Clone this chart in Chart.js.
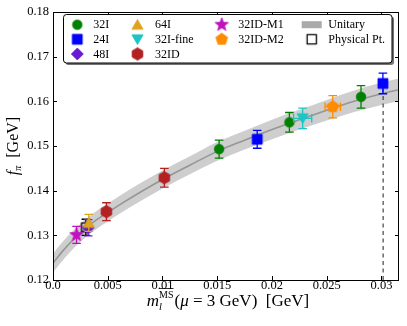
<!DOCTYPE html>
<html><head><meta charset="utf-8">
<script src="https://cdn.jsdelivr.net/npm/chart.js@4.4.0/dist/chart.umd.min.js"></script>
<style>html,body{margin:0;padding:0;background:#fff}#wrap{width:407px;height:326px}</style>
</head><body><div id="wrap"><canvas id="c" width="407" height="326"></canvas></div>
<script>
// ---------- data ----------
const xTickLabels = ['0.0','0.005','0.01','0.015','0.02','0.025','0.03'];
const yTickLabels = ['0.12','0.13','0.14','0.15','0.16','0.17','0.18'];

const m32I = [0.01517, 0.02159, 0.02813];
const f32I = [0.1493, 0.1553, 0.1610];
const e32I = [0.0020, 0.0022, 0.0025];

const m24I = [0.01865, 0.03013];
const f24I = [0.1515, 0.1640];
const e24I = [0.0020, 0.0023];

const m48I = [0.00321];
const f48I = [0.1317];
const e48I = [0.0018];

const m64I = [0.00327];
const f64I = [0.1328];
const e64I = [0.0019];

const m32Ifine = [0.0228];
const f32Ifine = [0.1562];
const e32Ifine = [0.0023];
const xe32Ifine = [0.00083];

const m32ID = [0.00488, 0.01017];
const f32ID = [0.1353, 0.1429];
const e32ID = [0.0020, 0.0021];

const m32IDM1 = [0.00215];
const f32IDM1 = [0.1301];
const e32IDM1 = [0.0019];

const m32IDM2 = [0.02555];
const f32IDM2 = [0.1588];
const e32IDM2 = [0.0025];
const xe32IDM2 = [0.0007];

const mPhys = [0.0030];
const fPhys = [0.1318];
const ePhys = [0.0018];

const dashedM = [0.03015, 0.03015];
const dashedF = [0.12, 0.1640];

const bandM = [0, 0.001, 0.002, 0.003, 0.004, 0.005, 0.006, 0.008, 0.010, 0.0125, 0.015, 0.0175, 0.020, 0.0225, 0.025, 0.0275, 0.030, 0.0316];
const bandC = [0.1238, 0.1268, 0.1294, 0.1316, 0.1335, 0.1351, 0.1367, 0.1397, 0.1425, 0.1457, 0.1488, 0.1513, 0.1537, 0.1559, 0.1580, 0.1600, 0.1617, 0.1626];
const bandW = [0.0021, 0.0021, 0.0020, 0.0020, 0.0020, 0.0020, 0.0020, 0.0020, 0.0020, 0.0020, 0.0021, 0.0021, 0.0022, 0.0022, 0.0023, 0.0024, 0.0025, 0.0025];

// ---------- markers ----------
function poly(g, cx, cy, r, n, a0) {
  for (let i = 0; i < n; i++) {
    const a = a0 + i * 2 * Math.PI / n;
    const x = cx + r * Math.cos(a), y = cy + r * Math.sin(a);
    if (i === 0) g.moveTo(x, y); else g.lineTo(x, y);
  }
}
function starPath(g, cx, cy, r, ri) {
  for (let i = 0; i < 10; i++) {
    const a = -Math.PI / 2 + i * Math.PI / 5;
    const rr = i % 2 ? ri : r;
    const x = cx + rr * Math.cos(a), y = cy + rr * Math.sin(a);
    if (i === 0) g.moveTo(x, y); else g.lineTo(x, y);
  }
}
function marker(shape, color, r, open) {
  const s = Math.ceil(r * 2 + 4);
  const c = document.createElement('canvas'); c.width = s; c.height = s;
  const g = c.getContext('2d'); const cx = s / 2, cy = s / 2;
  g.beginPath();
  if (shape === 'circle') g.arc(cx, cy, r, 0, 2 * Math.PI);
  else if (shape === 'square') g.rect(cx - r, cy - r, 2 * r, 2 * r);
  else if (shape === 'diamond') poly(g, cx, cy, r, 4, -Math.PI / 2);
  else if (shape === 'triUp') poly(g, cx, cy + r * 0.2, r, 3, -Math.PI / 2);
  else if (shape === 'triDown') poly(g, cx, cy - r * 0.2, r, 3, Math.PI / 2);
  else if (shape === 'hexagon') poly(g, cx, cy, r, 6, -Math.PI / 2);
  else if (shape === 'pentagon') poly(g, cx, cy, r, 5, -Math.PI / 2);
  else if (shape === 'star') starPath(g, cx, cy, r, r * 0.42);
  g.closePath();
  if (open) { g.lineWidth = 1.3; g.strokeStyle = color; g.stroke(); }
  else { g.fillStyle = color; g.fill(); g.lineWidth = 0.8; g.strokeStyle = color; g.stroke(); }
  return c;
}

const groups = [
  {label: '32I', m: m32I, f: f32I, e: e32I, xe: null, color: '#008000', shape: 'circle', r: 4.8},
  {label: '24I', m: m24I, f: f24I, e: e24I, xe: null, color: '#0000ff', shape: 'square', r: 5.0},
  {label: 'Physical Pt.', m: mPhys, f: fPhys, e: ePhys, xe: null, color: '#000000', shape: 'square', r: 4.3, open: true, noLegendHere: true},
  {label: '48I', m: m48I, f: f48I, e: e48I, xe: null, color: '#6a1ad2', shape: 'diamond', r: 6.0},
  {label: '64I', m: m64I, f: f64I, e: e64I, xe: null, color: '#dea321', shape: 'triUp', r: 6.5},
  {label: '32I-fine', m: m32Ifine, f: f32Ifine, e: e32Ifine, xe: xe32Ifine, color: '#1cc4c4', shape: 'triDown', r: 6.5},
  {label: '32ID', m: m32ID, f: f32ID, e: e32ID, xe: null, color: '#b22222', shape: 'hexagon', r: 6.2},
  {label: '32ID-M1', m: m32IDM1, f: f32IDM1, e: e32IDM1, xe: null, color: '#c010c0', shape: 'star', r: 7.0},
  {label: '32ID-M2', m: m32IDM2, f: f32IDM2, e: e32IDM2, xe: xe32IDM2, color: '#ff8c00', shape: 'pentagon', r: 6.2}
];

const datasets = [];
datasets.push({type: 'line', label: 'bandHi', data: bandM.map((x, i) => ({x, y: bandC[i] + bandW[i]})),
  borderWidth: 0, pointRadius: 0, fill: '+1', backgroundColor: 'rgba(190,190,190,0.75)', borderColor: 'rgba(0,0,0,0)', cubicInterpolationMode: 'monotone', order: 200});
datasets.push({type: 'line', label: 'bandLo', data: bandM.map((x, i) => ({x, y: bandC[i] - bandW[i]})),
  borderWidth: 0, pointRadius: 0, fill: false, borderColor: 'rgba(0,0,0,0)', cubicInterpolationMode: 'monotone', order: 199});
datasets.push({type: 'line', label: 'center', data: bandM.map((x, i) => ({x, y: bandC[i]})),
  borderWidth: 1.6, pointRadius: 0, fill: false, borderColor: '#969696', cubicInterpolationMode: 'monotone', order: 198});
datasets.push({type: 'line', label: 'dashed', data: dashedM.map((x, i) => ({x, y: dashedF[i]})),
  borderWidth: 1.1, pointRadius: 0, fill: false, borderColor: '#333333', borderDash: [4, 3.5], order: 197});
groups.forEach((gr, k) => {
  const img = marker(gr.shape, gr.color, gr.r, gr.open);
  gr.img = img;
  datasets.push({type: 'scatter', label: gr.label, data: gr.m.map((x, i) => ({x, y: gr.f[i]})),
    pointStyle: img, pointRadius: gr.r, pointHoverRadius: gr.r, backgroundColor: gr.color, borderColor: gr.color,
    order: 100 - k, _grp: gr});
});

// ---------- plugins ----------
const errPlugin = {
  id: 'errbars',
  beforeDatasetDraw(chart, args) {
    const ds = chart.data.datasets[args.index];
    const gr = ds._grp; if (!gr) return;
    const xs = chart.scales.x, ys = chart.scales.y, g = chart.ctx;
    g.save(); g.strokeStyle = gr.color; g.lineWidth = 1.3;
    gr.m.forEach((m, i) => {
      const px = xs.getPixelForValue(m);
      const y1 = ys.getPixelForValue(gr.f[i] + gr.e[i]), y2 = ys.getPixelForValue(gr.f[i] - gr.e[i]);
      const py = ys.getPixelForValue(gr.f[i]);
      g.beginPath();
      g.moveTo(px, y1); g.lineTo(px, y2);
      g.moveTo(px - 4.3, y1); g.lineTo(px + 4.3, y1);
      g.moveTo(px - 4.3, y2); g.lineTo(px + 4.3, y2);
      if (gr.xe) {
        const x1 = xs.getPixelForValue(m - gr.xe[i]), x2 = xs.getPixelForValue(m + gr.xe[i]);
        g.moveTo(x1, py); g.lineTo(x2, py);
        g.moveTo(x1, py - 4.3); g.lineTo(x1, py + 4.3);
        g.moveTo(x2, py - 4.3); g.lineTo(x2, py + 4.3);
      }
      g.stroke();
    });
    g.restore();
  }
};

const SERIF = '"Liberation Serif", "DejaVu Serif", serif';
const framePlugin = {
  id: 'frame',
  afterDraw(chart) {
    const g = chart.ctx, a = chart.chartArea, xs = chart.scales.x, ys = chart.scales.y;
    g.save();
    g.strokeStyle = '#000'; g.lineWidth = 1;
    g.strokeRect(Math.round(a.left) + 0.5, Math.round(a.top) + 0.5, Math.round(a.right - a.left) - 1, Math.round(a.bottom - a.top));
    g.beginPath();
    xs.ticks.forEach(t => {
      const px = Math.round(xs.getPixelForValue(t.value)) + 0.5;
      g.moveTo(px, a.bottom); g.lineTo(px, a.bottom - 4);
      g.moveTo(px, a.top); g.lineTo(px, a.top + 4);
    });
    ys.ticks.forEach(t => {
      const py = Math.round(ys.getPixelForValue(t.value)) + 0.5;
      g.moveTo(a.left, py); g.lineTo(a.left + 4, py);
      g.moveTo(a.right, py); g.lineTo(a.right - 4, py);
    });
    g.stroke();

    // x title
    g.fillStyle = '#000'; g.textBaseline = 'alphabetic';
    const parts = [
      {t: 'm', f: 'italic 17px ' + SERIF, dy: 0},
      {t: 'l', f: 'italic 10.5px ' + SERIF, dy: 4, sub: true},
      {t: '(', f: '17px ' + SERIF, dy: 0},
      {t: 'μ', f: 'italic 17px ' + SERIF, dy: 0},
      {t: ' = 3 GeV)  [GeV]', f: '17px ' + SERIF, dy: 0}
    ];
    const supT = 'MS', supF = '10px ' + SERIF;
    g.font = supF; const supW = g.measureText(supT).width;
    let total = 0;
    parts.forEach((p, i) => { g.font = p.f; p.w = g.measureText(p.t).width; total += p.w; if (p.sub) total += Math.max(0, supW - p.w) + 1; });
    let x = 228 - total / 2; const base = 306;
    parts.forEach(p => {
      g.font = p.f; g.fillText(p.t, x, base + p.dy);
      if (p.sub) {
        g.font = supF; g.fillText(supT, x, base - 8.5);
        g.beginPath(); g.lineWidth = 0.8; g.moveTo(x, base - 17.5); g.lineTo(x + supW, base - 17.5); g.stroke();
        x += Math.max(p.w, supW) + 1;
      } else x += p.w;
    });

    // y title
    g.save();
    g.translate(18, 146); g.rotate(-Math.PI / 2);
    const yp = [
      {t: 'f', f: 'italic 16px ' + SERIF, dy: 0},
      {t: 'π', f: 'italic 10px ' + SERIF, dy: 3},
      {t: '  [GeV]', f: '16px ' + SERIF, dy: 0}
    ];
    let tw = 0; yp.forEach(p => { g.font = p.f; p.w = g.measureText(p.t).width; tw += p.w; });
    let yx = -tw / 2;
    yp.forEach(p => { g.font = p.f; g.fillText(p.t, yx, p.dy); yx += p.w; });
    g.restore();

    // legend
    const L = 63, T = 14, R = 391.5, B = 62.5;
    g.fillStyle = 'rgba(0,0,0,0.55)';
    roundRect(g, L + 2.5, T + 2.5, R - L, B - T, 3); g.fill();
    g.fillStyle = '#fff'; g.strokeStyle = '#000'; g.lineWidth = 1;
    roundRect(g, L + 0.5, T + 0.5, R - L, B - T, 3); g.fill(); g.stroke();
    const colsM = [77.3, 137.5, 221.7, 311.7], colsT = [93.3, 155, 238.3, 328.3], rows = [24.7, 39.3, 54.0];
    const items = groups.filter(gr => !gr.noLegendHere).map(gr => ({label: gr.label, img: gr.img}));
    items.push({label: 'Unitary', patch: true});
    const phys = groups.find(gr => gr.noLegendHere);
    items.push({label: phys.label, img: marker('square', '#000', 4.6, true)});
    const perCol = [3, 3, 2, 2];
    let k = 0;
    g.font = '12px ' + SERIF; g.textBaseline = 'middle'; g.fillStyle = '#000';
    perCol.forEach((n, c) => {
      for (let r = 0; r < n; r++) {
        const it = items[k++]; const mx = colsM[c], my = rows[r];
        if (it.patch) { g.fillStyle = 'rgba(170,170,170,1)'; g.fillRect(mx - 10, my - 3.5, 20, 7); }
        else g.drawImage(it.img, mx - it.img.width / 2, my - it.img.height / 2);
        g.fillStyle = '#000'; g.fillText(it.label, colsT[c], my + 0.5);
      }
    });
    g.restore();
  }
};
function roundRect(g, x, y, w, h, r) {
  g.beginPath();
  g.moveTo(x + r, y); g.lineTo(x + w - r, y); g.arcTo(x + w, y, x + w, y + r, r);
  g.lineTo(x + w, y + h - r); g.arcTo(x + w, y + h, x + w - r, y + h, r);
  g.lineTo(x + r, y + h); g.arcTo(x, y + h, x, y + h - r, r);
  g.lineTo(x, y + r); g.arcTo(x, y, x + r, y, r); g.closePath();
}

new Chart(document.getElementById('c'), {
  data: {datasets},
  options: {
    responsive: false, animation: false, events: [],
    layout: {padding: {top: 12, right: 6, left: 0, bottom: 0}},
    plugins: {legend: {display: false}, tooltip: {enabled: false}},
    scales: {
      x: {type: 'linear', min: 0, max: 0.0316,
        afterFit(s) { s.height = 46; },
        grid: {display: false, drawTicks: false}, border: {display: false},
        ticks: {stepSize: 0.005, includeBounds: false, padding: -2, color: '#000', maxRotation: 0,
          font: {family: SERIF, size: 12.5}, callback: (v, i) => xTickLabels[i]}},
      y: {type: 'linear', min: 0.12, max: 0.18,
        afterFit(s) { s.width = 53; },
        grid: {display: false, drawTicks: false}, border: {display: false},
        ticks: {stepSize: 0.01, padding: 4, color: '#000',
          font: {family: SERIF, size: 12.5}, callback: (v, i) => yTickLabels[i]}}
    }
  },
  plugins: [errPlugin, framePlugin]
});
</script></body></html>
